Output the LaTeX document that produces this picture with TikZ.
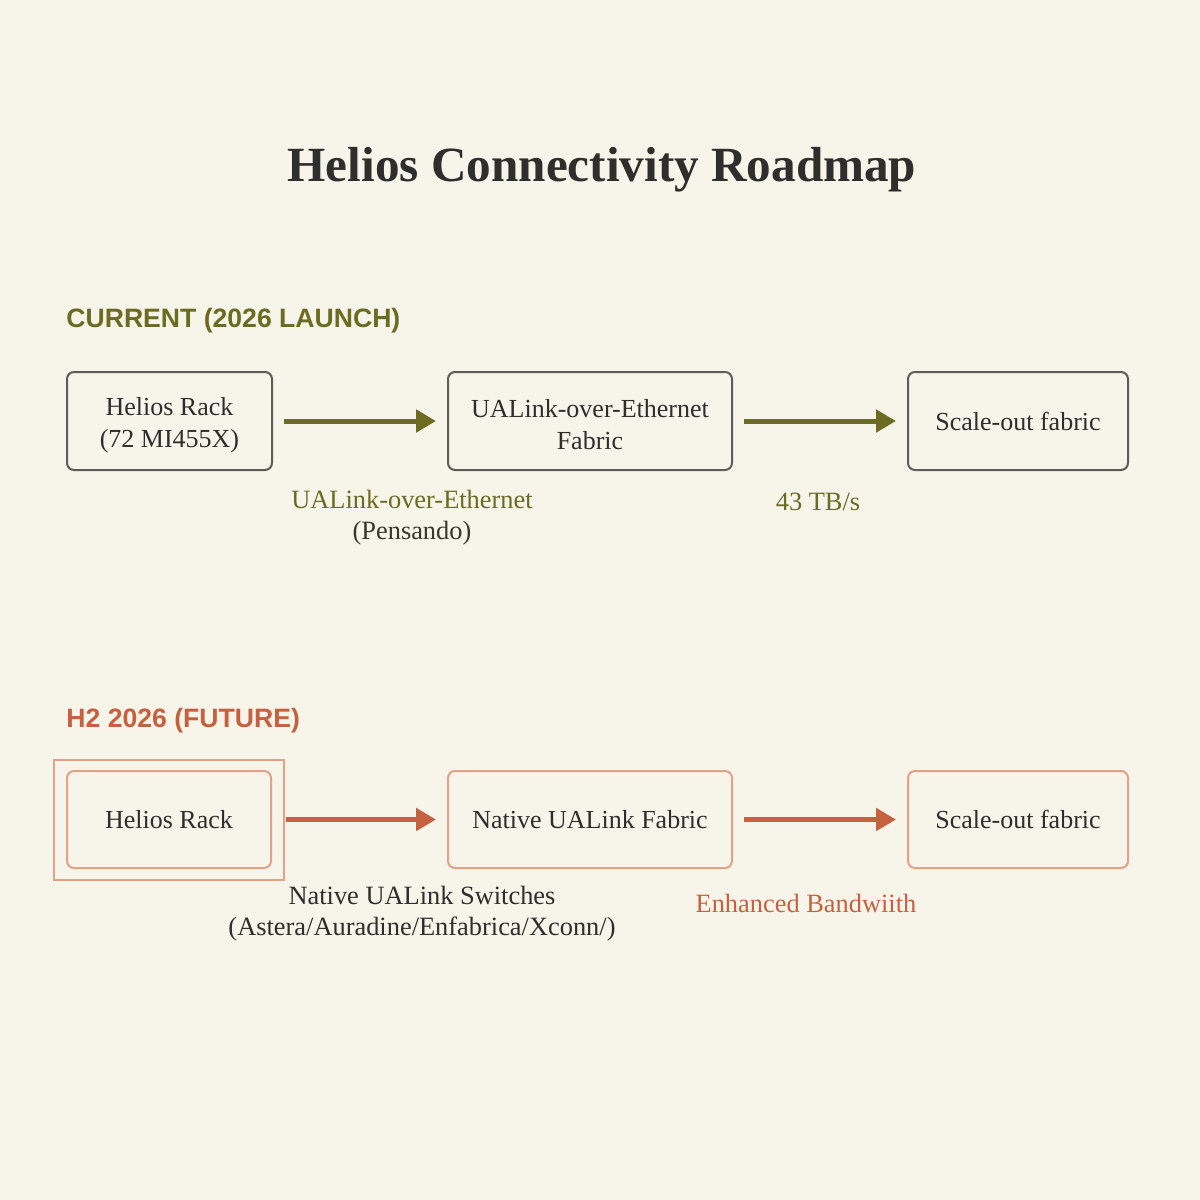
\documentclass[tikz,border=0pt]{standalone}
\usepackage{fontspec}
\setmainfont{Liberation Serif}
\newfontfamily\headfont{Liberation Sans}
\usetikzlibrary{arrows.meta}
\definecolor{bgc}{HTML}{F7F4EA}
\definecolor{olive}{HTML}{6B6B22}
\definecolor{terra}{HTML}{C5613F}
\definecolor{salmon}{HTML}{E3A187}
\definecolor{boxgray}{HTML}{5C5C58}
\definecolor{ink}{HTML}{2E2E2C}
\newcommand{\lowstrut}{\rule{0pt}{13pt}}
\tikzset{
  boxcur/.style={draw=boxgray, line width=1pt, rounded corners=3.5pt, text=ink, align=center, inner sep=0pt, font=\fontsize{13}{16}\selectfont},
  boxfut/.style={draw=salmon, line width=1pt, rounded corners=3.5pt, text=ink, align=center, inner sep=0pt, font=\fontsize{13}{16}\selectfont},
  arrcur/.style={draw=olive, line width=2.5pt, -{Triangle[length=10pt,width=11pt]}, shorten <=5.5pt, shorten >=5.5pt},
  arrfut/.style={draw=terra, line width=2.5pt, -{Triangle[length=10pt,width=11pt]}, shorten <=5.5pt, shorten >=5.5pt},
  lbl/.style={align=center, font=\fontsize{13.2}{15.5}\selectfont},
  heading/.style={anchor=west, inner sep=0pt, font=\headfont\bfseries\fontsize{13.3}{16}\selectfont}
}
\begin{document}
\begin{tikzpicture}[x=0.5pt,y=-0.5pt]
\fill[bgc] (0,0) rectangle (1200,1200);
\useasboundingbox (0,0) rectangle (1200,1200);

\node[font=\bfseries\fontsize{24.6}{29}\selectfont, text=ink] (title) at (602,170) {Helios Connectivity Roadmap};

% current
\node[heading, text=olive] (hcur) at (66,321) {CURRENT (2026 LAUNCH)};
\node[boxcur, minimum width=102.5pt, minimum height=49pt] (c1) at (169.5,421) {\lowstrut Helios Rack\\(72 MI455X)};
\node[boxcur, minimum width=142pt, minimum height=49pt] (c2) at (590,421) {\lowstrut UALink-over-Ethernet\\Fabric};
\node[boxcur, minimum width=110pt, minimum height=49pt] (c3) at (1018,421) {Scale-out fabric};
\draw[arrcur] (c1) -- (c2);
\draw[arrcur] (c2) -- (c3);
\node[lbl] (l1) at (412,518) {\textcolor{olive}{UALink-over-Ethernet}\\\textcolor{ink!85!olive}{(Pensando)}};
\node[lbl, text=olive] (l2) at (818,502) {43 TB/s};

% future
\node[heading, text=terra] (hfut) at (66,721) {H2 2026 (FUTURE)};
\node[draw=salmon, line width=0.8pt, minimum width=115pt, minimum height=60pt, inner sep=0pt] (frame) at (169,820) {};
\node[boxfut, minimum width=102pt, minimum height=48.5pt] (f1) at (169,819.5) {Helios Rack};
\node[boxfut, minimum width=142pt, minimum height=48.5pt] (f2) at (590,819.5) {Native UALink Fabric};
\node[boxfut, minimum width=110pt, minimum height=48.5pt] (f3) at (1018,819.5) {Scale-out fabric};
\draw[arrfut, shorten <=0.5pt] (frame.east |- f1.east) -- (f2);
\draw[arrfut] (f2) -- (f3);
\node[lbl, text=ink] (l3) at (422,914) {Native UALink Switches\\(Astera/Auradine/Enfabrica/Xconn/)};
\node[lbl, text=terra] (l4) at (806,903) {Enhanced Bandwiith};
\end{tikzpicture}
\end{document}
